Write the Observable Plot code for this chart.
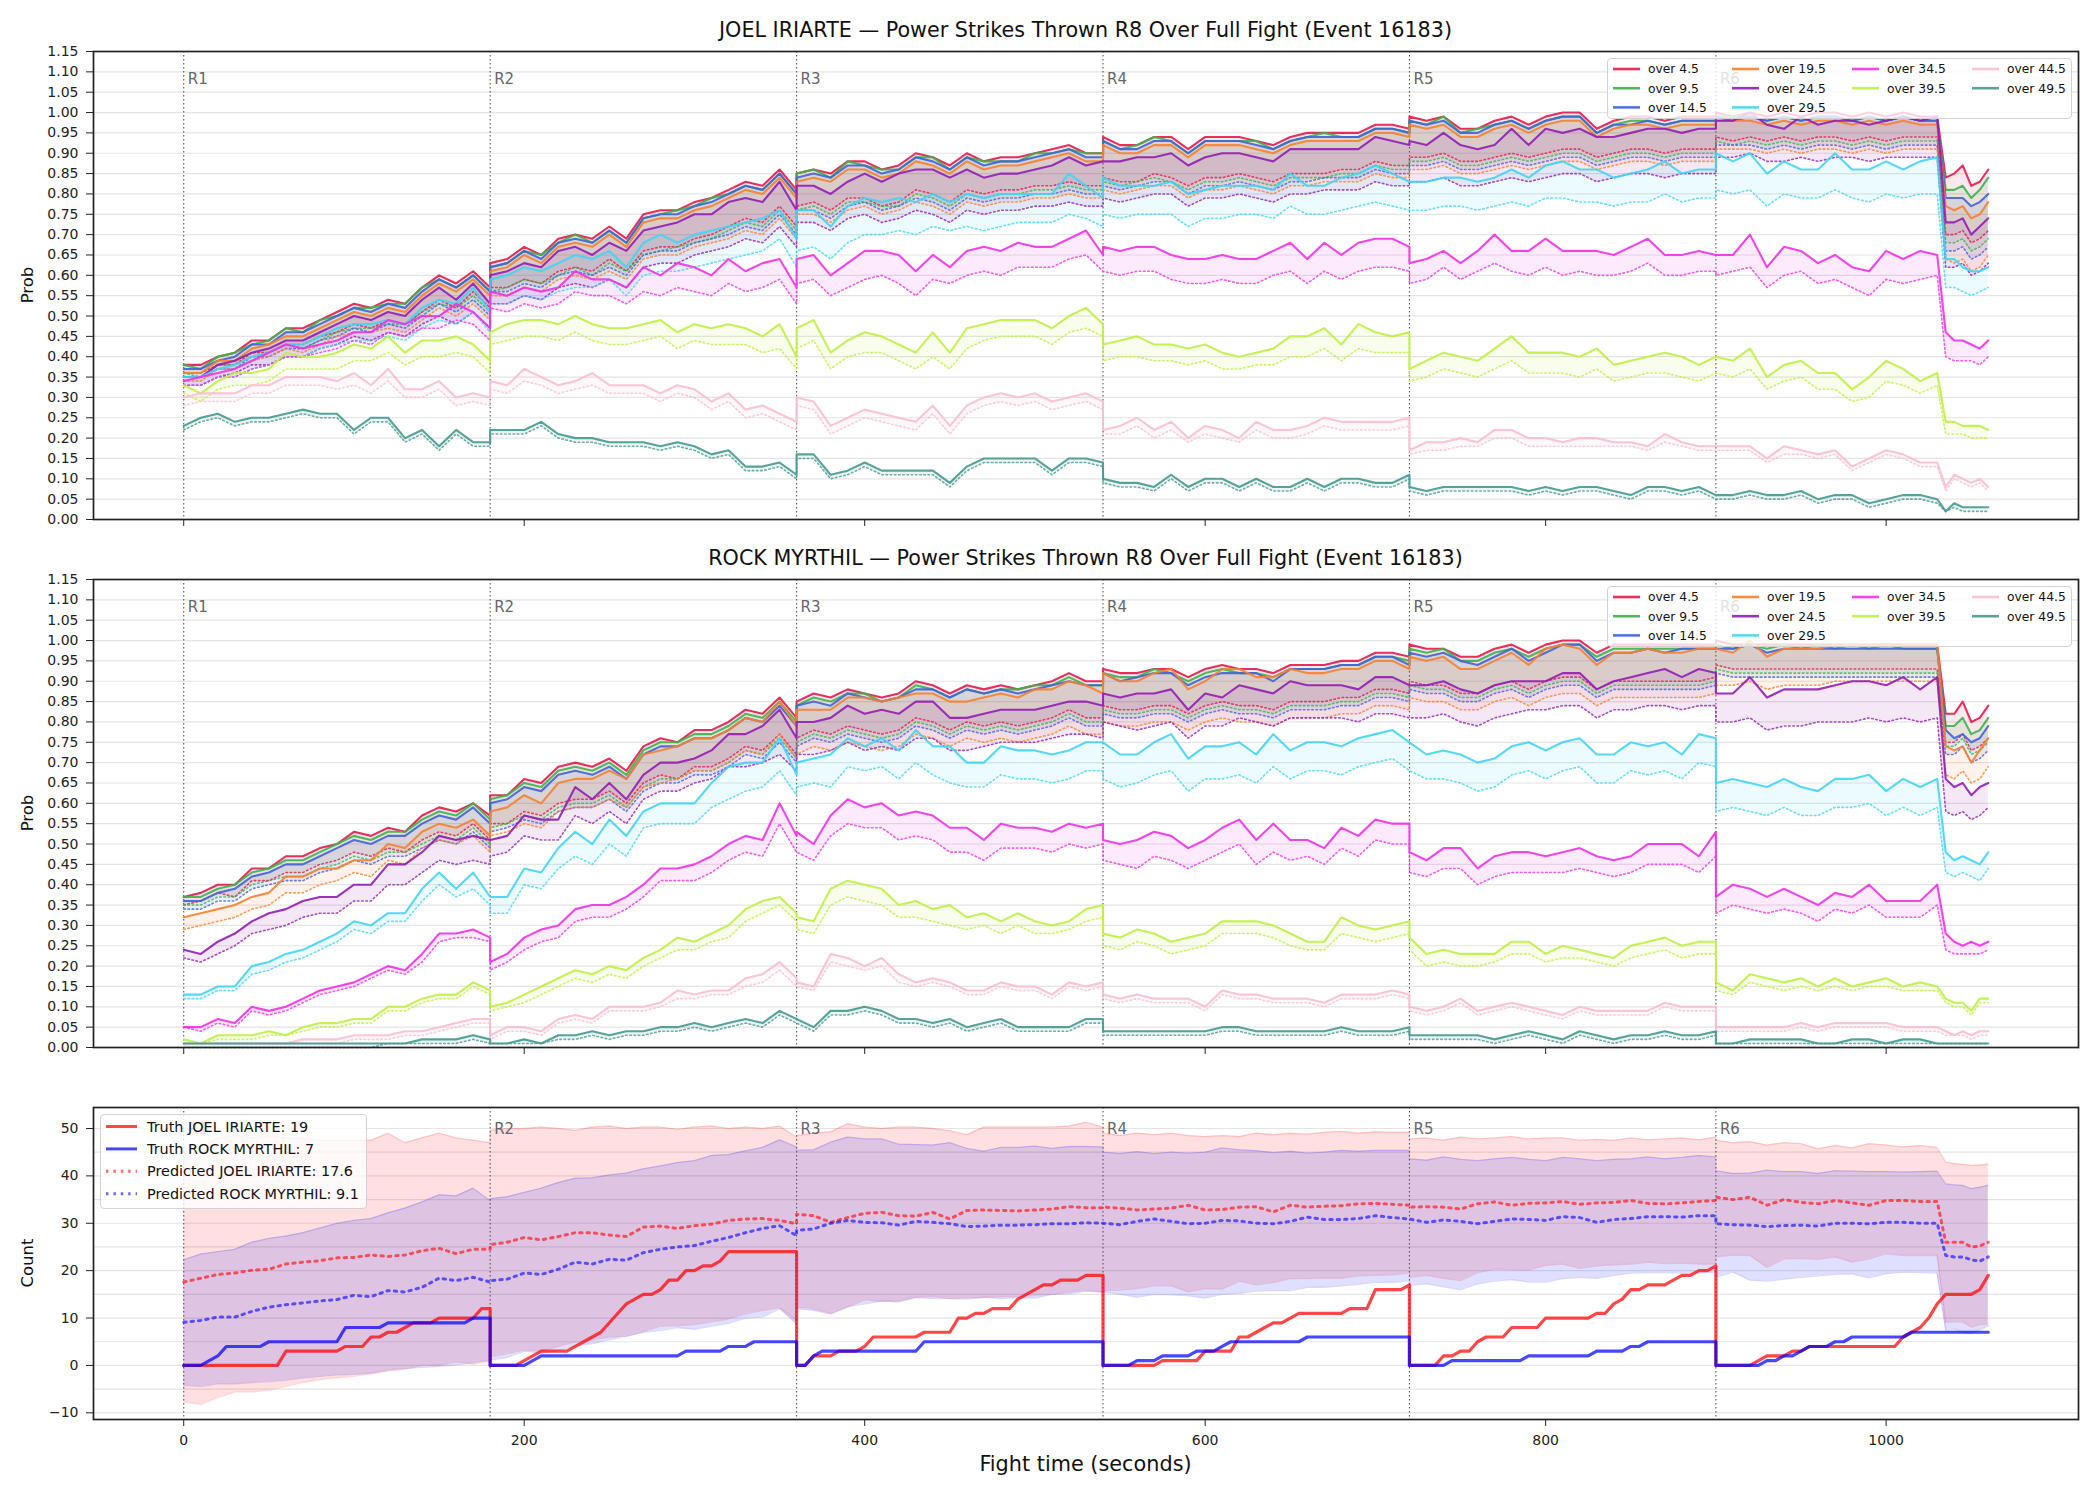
<!DOCTYPE html>
<html>
<head>
<meta charset="utf-8">
<script src="https://cdn.jsdelivr.net/npm/d3@7"></script>
<script src="https://cdn.jsdelivr.net/npm/@observablehq/plot@0.6"></script>
<style>
  html, body { margin: 0; padding: 0; background: #fff; }
  #fig { position: relative; width: 2100px; height: 1500px; overflow: hidden; font-family: "DejaVu Sans", sans-serif; color: #111; }
  .panel { position: absolute; left: 0; }
  .title { position: absolute; left: 93px; width: 1985px; text-align: center; font-size: 20.7px; line-height: 24px; color: #111; white-space: nowrap; }
  .ylab { position: absolute; width: 200px; text-align: center; font-size: 16.5px; line-height: 20px; transform: rotate(-90deg); }
  .xlab { position: absolute; left: 93px; width: 1985px; text-align: center; font-size: 20.8px; line-height: 24px; }
  .leg { position: absolute; box-sizing: border-box; border: 1px solid #d2d2d2; border-radius: 4px; background: rgba(255,255,255,0.8); }
  .leg svg { position: absolute; left: -1px; top: -1px; overflow: visible; }
</style>
</head>
<body>
<div id="fig"></div>
<script>
// ---- shared axes and labels ----
const fighterA = "JOEL IRIARTE";
const fighterB = "ROCK MYRTHIL";
const eventId = 16183;
const roundStarts = [0, 180, 360, 540, 720, 900];
const roundNames = ["R1", "R2", "R3", "R4", "R5", "R6"];
const timeTicks = [0, 200, 400, 600, 800, 1000];
const probTicks = [0, 0.05, 0.1, 0.15, 0.2, 0.25, 0.3, 0.35, 0.4, 0.45, 0.5, 0.55, 0.6, 0.65, 0.7, 0.75, 0.8, 0.85, 0.9, 0.95, 1, 1.05, 1.1, 1.15];
const countTicks = [-10, 0, 10, 20, 30, 40, 50];
const countGrid = [-10, -5, 0, 5, 10, 15, 20, 25, 30, 35, 40, 45, 50];
const lineNames = ["over 4.5", "over 9.5", "over 14.5", "over 19.5", "over 24.5", "over 29.5", "over 34.5", "over 39.5", "over 44.5", "over 49.5"];
const lineColors = ["#e6194b", "#3cb44b", "#4363d8", "#f58231", "#911eb4", "#42d4f4", "#f032e6", "#bfef45", "#fabed4", "#469990"];

// sample times (s); each round boundary appears twice: end of one round, start of the next
const fightTime = [
  0,10,20,30,40,50,60,70,80,90,100,110,120,130,140,150,160,170,180,
  180,190,200,210,220,230,240,250,260,270,280,290,300,310,320,330,340,350,360,
  360,370,380,390,400,410,420,430,440,450,460,470,480,490,500,510,520,530,540,
  540,550,560,570,580,590,600,610,620,630,640,650,660,670,680,690,700,710,720,
  720,730,740,750,760,770,780,790,800,810,820,830,840,850,860,870,880,890,900,
  900,910,920,930,940,950,960,970,980,990,1000,1010,1020,1030,1035,1040,1045,1050,1055,1060
];

// ---- JOEL IRIARTE: probability (%) of each line, model value ----
const joelP4_5 = [
  38,38,40,41,44,44,47,47,49,51,53,52,54,53,57,60,58,61,57,
  63,64,67,65,69,70,69,72,69,75,76,76,78,79,81,83,82,86,81,
  85,86,85,88,88,86,87,90,89,87,90,88,89,89,90,91,92,90,90,
  94,92,92,94,94,91,94,94,94,93,92,94,95,95,95,95,97,97,96,
  99,98,99,96,96,98,99,97,99,100,100,96,98,99,99,98,99,99,99,
  100,99,100,99,100,99,100,100,99,100,99,100,99,99,84,85,87,82,83,86];
const joelP9_5 = [
  38,37,40,41,43,44,47,46,49,50,52,52,53,53,57,59,57,60,56,
  62,63,66,65,68,70,68,71,68,74,75,76,77,79,80,82,81,85,80,
  85,86,84,88,87,86,86,89,89,86,89,88,88,88,90,90,91,90,90,
  93,91,92,94,93,90,93,93,93,93,91,93,94,95,94,94,96,96,95,
  98,97,99,95,96,97,98,96,98,99,99,95,97,98,98,97,98,98,98,
  99,99,99,98,99,98,99,99,98,99,98,99,98,98,81,81,82,79,81,84];
const joelP14_5 = [
  37,37,39,40,43,43,46,46,48,50,52,51,53,52,56,59,57,60,56,
  62,63,66,64,68,69,68,71,68,74,75,75,77,78,80,82,81,85,80,
  84,85,84,87,87,85,86,89,88,86,89,87,88,88,89,90,91,89,89,
  93,91,91,93,93,90,93,93,93,92,91,93,94,94,94,94,96,96,95,
  98,97,98,95,95,97,98,96,98,99,99,95,97,97,98,97,98,98,98,
  99,98,99,98,99,98,99,99,98,99,98,99,98,98,79,79,79,77,78,80];
const joelP19_5 = [
  36,36,39,39,42,43,45,45,47,49,51,50,52,51,55,58,56,59,55,
  61,62,65,63,67,68,67,70,67,73,74,74,76,77,79,81,80,84,79,
  83,84,83,86,86,84,85,88,87,85,88,86,87,87,88,89,90,88,88,
  92,90,90,92,92,89,92,92,92,91,90,92,93,93,93,93,95,95,94,
  97,96,97,94,94,96,97,95,97,98,98,94,96,97,97,96,97,97,97,
  98,98,98,97,98,97,98,98,97,98,97,98,97,97,77,76,77,74,75,78];
const joelP24_5 = [
  35,35,38,39,41,42,44,44,46,48,50,49,51,50,54,57,54,58,53,
  60,61,63,62,66,67,65,68,66,71,72,73,75,75,78,79,78,83,76,
  82,82,80,83,85,83,85,86,86,84,86,84,85,85,86,87,89,87,88,
  88,88,89,89,90,87,89,90,90,89,88,91,91,91,91,91,94,93,92,
  93,92,95,92,91,92,96,92,96,95,96,94,94,95,96,96,95,96,96,
  98,98,100,97,96,99,97,98,98,97,98,99,98,99,73,73,74,70,72,74];
const joelP29_5 = [
  35,35,37,38,40,41,43,43,45,47,48,48,49,48,52,54,53,57,51,
  59,60,62,61,63,65,64,66,62,68,70,68,70,71,72,73,74,76,69,
  76,76,72,77,79,78,79,78,80,78,80,79,80,80,80,80,85,82,79,
  84,82,82,82,83,80,81,82,82,82,81,85,82,82,84,85,87,85,83,
  83,83,84,84,83,84,86,84,87,88,86,86,84,85,86,88,85,86,86,
  90,88,90,85,88,86,86,90,86,86,88,86,88,89,64,64,62,61,61,62];
const joelP34_5 = [
  34,35,36,37,39,41,43,42,43,44,46,46,49,48,50,50,53,51,47,
  56,55,57,56,57,61,59,59,57,62,60,63,62,60,64,61,63,64,57,
  64,65,60,63,66,66,65,61,65,62,66,67,66,68,67,67,69,71,65,
  67,66,67,67,65,64,64,65,64,64,66,68,64,68,65,68,69,69,67,
  63,64,66,63,66,70,66,66,69,66,66,66,65,67,69,65,65,66,65,
  65,65,70,62,67,66,63,65,62,61,66,64,66,65,46,44,44,43,42,44];
const joelP39_5 = [
  33,31,34,36,36,37,41,40,40,41,43,42,45,41,44,44,45,43,39,
  46,48,49,49,48,50,48,47,47,48,49,46,48,47,48,47,45,48,40,
  47,49,41,44,46,45,43,41,46,41,47,48,49,49,49,47,50,52,48,
  43,44,45,43,43,42,43,41,40,41,42,45,45,47,43,48,46,45,46,
  37,39,41,40,39,42,45,41,41,41,40,42,38,39,40,41,40,38,40,
  40,39,42,35,38,39,36,36,32,35,39,37,34,36,24,24,23,23,23,22];
const joelP44_5 = [
  30,31,31,31,33,33,35,35,35,34,36,33,37,32,32,34,30,31,30,
  34,33,37,35,33,34,36,33,33,33,31,33,32,29,31,27,28,26,24,
  30,29,23,25,27,26,25,24,28,23,28,30,31,30,31,29,30,31,29,
  22,23,25,22,24,20,23,22,20,24,22,22,23,25,24,24,24,24,25,
  17,19,19,20,19,22,22,20,20,19,20,20,19,19,18,21,19,18,18,
  18,18,18,15,18,17,16,17,13,15,17,16,14,14,8,11,10,9,10,8];
const joelP49_5 = [
  23,25,26,24,25,25,26,27,26,26,22,25,25,20,22,18,22,19,19,
  22,22,22,24,21,20,20,19,19,19,18,19,18,16,17,13,13,14,11,
  16,16,11,12,14,12,12,12,12,9,13,15,15,15,15,12,15,15,14,
  10,9,9,8,11,8,10,10,8,10,8,8,10,8,10,10,9,9,11,
  8,7,8,8,8,8,8,7,8,7,8,8,7,6,8,8,7,8,6,
  6,6,7,6,6,7,5,6,6,4,5,6,6,5,2,4,3,3,3,3];

// ---- JOEL IRIARTE: lower reference (%) drawn dotted ----
const joelL4_5 = [
  36,36,38,38,41,41,43,43,45,46,48,47,49,48,51,54,52,56,52,
  57,57,59,58,61,62,61,64,61,66,67,67,69,70,72,74,73,77,72,
  77,78,76,79,79,77,78,81,80,78,81,80,81,81,82,82,83,82,82,
  84,83,83,85,84,82,84,84,85,84,83,85,85,85,86,86,88,87,87,
  89,89,90,88,88,89,90,89,90,91,91,89,90,91,91,90,91,91,91,
  94,93,94,93,94,93,94,94,93,94,93,94,94,94,70,70,71,68,69,71];
const joelL9_5 = [
  36,35,38,38,40,41,43,42,44,46,47,47,48,48,51,53,52,55,51,
  56,57,59,58,60,62,60,63,61,65,66,67,68,69,71,73,72,76,71,
  76,77,75,78,78,77,77,80,79,77,80,79,80,80,81,81,82,81,81,
  83,82,83,84,83,81,83,83,84,83,82,84,84,84,85,85,87,86,86,
  88,88,89,87,87,88,89,88,89,90,90,88,89,90,90,89,90,90,90,
  93,92,93,92,93,92,93,93,92,93,92,93,93,93,68,68,69,66,67,69];
const joelL14_5 = [
  35,35,37,37,40,40,42,42,44,45,47,46,48,47,50,53,51,54,50,
  56,56,58,57,60,61,60,62,60,65,66,66,68,69,70,72,71,75,70,
  76,76,74,77,78,76,77,79,78,76,79,78,79,79,80,80,81,80,80,
  82,81,82,83,83,80,82,82,83,82,81,83,83,84,84,84,86,85,85,
  87,87,88,86,86,87,88,87,88,89,89,87,88,89,89,88,89,89,89,
  92,92,92,91,92,91,92,92,91,92,91,92,92,92,66,66,67,64,65,67];
const joelL19_5 = [
  34,34,37,37,39,40,42,41,43,45,46,46,47,46,49,52,50,53,49,
  55,55,57,56,59,60,59,61,59,64,65,65,67,68,69,71,70,74,69,
  75,75,73,76,77,75,76,78,77,75,78,77,78,78,79,79,80,79,79,
  81,80,81,82,82,79,81,81,82,81,80,82,82,83,83,83,85,84,84,
  86,86,87,85,85,86,87,86,87,88,88,86,87,88,88,87,88,88,88,
  91,91,91,90,91,90,91,91,90,91,90,91,91,91,64,63,64,61,62,65];
const joelL24_5 = [
  33,33,35,36,38,38,40,40,42,43,45,44,46,45,48,50,48,51,47,
  53,53,55,54,57,58,57,59,57,62,63,63,65,66,67,69,68,72,67,
  73,73,71,74,75,73,74,76,75,73,76,75,76,76,77,77,78,77,77,
  79,78,79,80,80,77,79,79,80,79,78,80,80,81,81,81,83,82,82,
  83,83,84,82,82,83,84,83,84,85,85,83,84,85,85,84,85,85,85,
  89,89,90,88,88,89,88,89,89,88,89,89,89,89,62,62,63,60,61,63];
const joelL29_5 = [
  33,33,35,35,37,38,40,40,42,43,44,44,45,44,47,49,48,51,46,
  53,53,55,54,56,57,57,59,55,60,61,61,62,63,64,65,66,69,62,
  66,67,64,68,70,70,71,70,72,71,72,71,72,73,73,73,75,74,72,
  75,74,75,75,75,72,74,74,75,75,74,77,75,75,76,77,78,77,76,
  76,76,77,77,76,77,78,77,79,79,78,78,77,78,78,80,78,79,79,
  81,80,81,77,80,79,79,81,79,78,80,79,80,80,57,57,56,55,56,57];
const joelL34_5 = [
  33,33,35,35,37,38,40,40,41,42,44,43,46,45,47,47,49,48,44,
  52,51,53,52,53,56,55,55,53,56,55,57,56,55,58,56,57,59,53,
  58,59,55,57,59,60,58,55,59,58,60,61,60,62,62,62,64,65,61,
  61,60,61,61,59,58,58,59,58,58,60,61,58,61,59,61,62,62,61,
  58,59,62,59,61,63,61,60,62,60,61,60,60,61,63,60,60,61,61,
  60,61,62,57,60,61,58,59,57,55,59,58,59,60,40,39,39,39,38,40];
const joelL39_5 = [
  31,29,32,33,33,34,37,37,37,37,39,39,41,38,40,40,41,40,36,
  43,44,45,45,44,46,44,43,43,44,45,42,44,43,43,43,41,42,37,
  42,44,37,40,41,41,39,37,40,37,42,44,45,45,45,43,46,47,45,
  39,40,40,39,39,38,39,37,37,38,38,40,40,42,39,42,41,41,41,
  34,35,37,36,35,37,39,36,36,36,35,37,34,35,36,36,35,34,36,
  36,35,37,32,34,35,32,32,29,30,34,33,31,33,21,21,21,20,20,20];
const joelL44_5 = [
  28,29,29,29,31,31,33,33,33,32,33,31,34,30,30,32,28,29,28,
  32,31,34,33,31,32,33,31,31,31,29,31,30,27,29,25,26,24,22,
  28,27,21,23,25,24,23,22,26,21,26,28,29,28,29,27,28,29,27,
  21,21,23,20,22,19,21,20,19,22,20,20,21,23,22,22,22,22,23,
  16,17,17,18,18,20,20,18,18,18,18,18,18,18,17,19,18,17,17,
  17,17,17,14,16,16,15,16,12,14,16,15,13,13,7,10,9,8,9,7];
const joelL49_5 = [
  22,24,25,23,24,24,25,26,25,25,21,24,24,19,21,17,21,18,18,
  21,21,21,23,20,19,19,18,18,18,17,18,17,15,16,12,12,13,10,
  15,15,10,11,13,11,11,11,11,8,12,14,14,14,14,11,14,14,13,
  9,8,8,7,10,7,9,9,7,9,7,7,9,7,9,9,8,8,10,
  7,6,7,7,7,7,7,6,7,6,7,7,6,5,7,7,6,7,5,
  5,5,6,5,5,6,4,5,5,3,4,5,5,4,2,3,2,2,2,2];

// ---- ROCK MYRTHIL: probability (%) of each line, model value ----
const rockP4_5 = [
  37,38,40,40,44,44,47,47,49,50,53,52,54,53,57,59,58,60,57,
  62,62,66,65,69,70,69,71,68,74,76,75,78,78,80,83,82,86,81,
  85,87,86,88,87,86,87,90,89,87,89,88,89,88,89,90,92,90,90,
  93,92,92,93,93,91,93,94,93,93,92,94,94,94,95,95,97,97,96,
  99,98,98,96,96,98,99,97,99,100,100,97,99,99,99,99,99,99,99,
  100,99,99,99,99,99,99,99,99,99,99,99,99,99,82,82,85,80,81,84];
const rockP9_5 = [
  37,37,39,40,43,44,46,46,48,50,52,51,53,53,56,58,57,60,56,
  61,62,65,64,68,69,68,70,67,73,75,75,77,77,79,82,81,85,80,
  84,86,85,87,87,85,86,89,88,86,88,87,88,88,89,89,91,89,89,
  92,91,91,93,92,90,92,93,92,92,91,93,93,93,94,94,96,96,95,
  98,97,98,95,95,97,98,96,98,99,99,96,98,98,98,98,98,98,98,
  99,98,99,98,99,98,99,98,99,98,99,98,98,98,79,79,81,77,78,81];
const rockP14_5 = [
  36,36,38,39,42,43,45,45,47,49,51,50,52,52,55,57,56,59,55,
  60,61,64,63,67,68,67,69,66,72,74,74,76,76,78,81,80,84,79,
  84,85,84,87,86,85,86,88,88,86,88,87,88,87,88,89,90,89,89,
  92,90,91,92,92,89,91,92,92,92,90,93,93,93,94,94,96,96,94,
  97,96,97,95,94,96,98,95,97,99,99,95,97,97,98,97,98,98,98,
  98,98,99,97,98,98,98,98,98,98,98,98,98,98,78,76,77,75,76,79];
const rockP19_5 = [
  32,33,34,35,37,38,42,42,44,44,46,46,50,49,53,55,54,56,52,
  58,59,62,60,65,66,66,68,66,72,73,74,76,76,78,81,80,85,79,
  83,83,83,86,86,85,86,87,87,85,85,86,87,86,88,88,90,89,87,
  92,90,90,92,93,88,90,93,93,91,91,93,92,92,93,93,95,95,93,
  96,95,96,93,93,95,97,94,98,99,98,94,97,97,98,97,97,98,98,
  98,97,100,96,98,98,98,99,99,99,99,99,99,99,74,73,74,70,73,76];
const rockP24_5 = [
  24,23,26,28,31,33,34,36,37,37,40,40,45,45,48,52,51,52,51,
  51,52,57,56,56,64,61,65,61,67,70,70,71,73,77,77,79,83,76,
  80,80,81,84,82,83,82,85,85,81,81,82,83,83,83,84,85,85,84,
  87,86,87,87,88,83,87,86,89,88,87,90,89,89,89,88,91,91,89,
  89,89,90,88,87,89,90,90,90,92,92,88,90,91,92,93,91,93,92,
  87,87,91,86,88,88,88,89,90,90,89,91,88,91,66,64,65,62,64,65];
const rockP29_5 = [
  13,13,15,15,20,21,23,24,26,28,31,30,33,33,39,43,39,43,37,
  37,37,44,43,49,53,50,56,52,58,60,60,60,65,69,70,70,76,67,
  70,71,72,76,74,76,73,78,74,74,70,70,74,73,73,72,73,75,75,
  75,72,72,75,77,71,74,74,75,72,77,73,75,75,74,76,77,78,75,
  75,72,73,72,70,71,74,75,73,75,76,72,72,75,74,75,72,77,76,
  65,66,65,64,66,64,63,66,66,67,63,66,64,66,48,46,47,46,45,48];
const rockP34_5 = [
  5,5,7,6,10,9,10,12,14,15,16,18,20,19,23,28,28,29,27,
  21,23,27,29,30,34,35,35,37,40,44,44,45,47,50,52,51,60,52,
  53,50,57,61,59,60,57,58,57,54,54,51,55,54,54,53,55,54,55,
  51,50,51,53,52,49,51,54,56,51,55,51,51,49,54,52,56,55,55,
  48,46,49,49,44,47,48,48,47,48,49,47,46,47,50,50,50,47,53,
  37,40,39,37,39,37,35,38,37,40,36,36,36,40,28,26,25,26,25,26];
const rockP39_5 = [
  2,1,3,3,3,4,3,5,6,6,7,7,10,10,12,13,13,16,14,
  10,11,13,15,17,19,18,20,19,22,24,27,26,28,30,34,36,37,33,
  32,31,39,41,40,39,35,36,34,35,32,33,31,33,31,30,31,34,35,
  28,27,29,28,26,27,28,31,31,31,30,28,26,26,32,30,29,30,31,
  27,23,24,23,23,23,26,26,23,25,24,23,22,25,26,27,25,26,26,
  16,14,18,17,16,17,15,17,15,16,17,15,16,15,12,11,11,9,12,12];
const rockP44_5 = [
  1,1,1,1,1,1,1,2,2,2,3,3,3,4,4,5,6,7,7,
  3,5,5,4,7,8,7,10,10,10,11,14,13,14,14,17,18,21,17,
  16,15,23,22,20,22,18,16,17,16,14,14,16,15,15,13,16,15,16,
  13,12,13,12,12,12,10,14,13,13,12,12,12,11,13,13,13,14,13,
  10,9,10,12,9,10,11,10,9,8,10,9,9,9,9,11,10,10,10,
  5,5,5,5,5,6,5,6,6,6,6,5,5,5,4,3,4,3,4,4];
const rockP49_5 = [
  1,1,1,1,1,1,1,1,1,1,1,1,1,1,2,2,2,3,2,
  1,1,2,1,3,3,4,3,4,4,5,5,6,5,6,7,6,9,7,
  7,5,9,9,10,9,7,7,6,7,5,6,7,5,5,5,5,7,7,
  4,4,4,4,4,4,4,5,5,4,4,4,4,4,5,4,4,4,5,
  3,3,3,3,3,2,3,4,3,2,4,3,2,3,3,4,3,3,4,
  1,1,2,2,2,2,1,1,2,2,1,2,2,1,1,1,1,1,1,1];

// ---- ROCK MYRTHIL: lower reference (%) drawn dotted ----
const rockL4_5 = [
  35,36,38,37,41,41,43,43,45,46,48,47,49,48,51,53,52,55,51,
  55,55,58,57,60,61,61,63,60,65,67,66,69,69,71,74,73,77,72,
  76,78,77,79,78,77,78,81,80,78,80,79,80,79,80,81,83,81,81,
  84,83,83,84,84,82,84,85,84,84,83,85,85,85,86,86,88,88,87,
  90,89,89,87,87,89,90,88,90,91,91,88,90,90,90,90,90,90,91,
  94,93,93,93,93,93,93,93,93,93,93,93,93,93,75,75,77,73,74,76];
const rockL9_5 = [
  35,35,37,37,40,41,42,42,44,45,47,46,48,48,50,52,51,54,50,
  54,55,57,56,59,60,60,62,59,64,66,66,68,68,70,73,72,76,71,
  75,77,76,78,77,76,77,80,79,77,79,78,79,78,79,80,82,80,80,
  83,82,82,83,83,81,83,84,83,83,82,84,84,84,85,85,87,87,86,
  89,88,88,86,86,88,89,87,89,90,90,87,89,89,89,89,89,89,90,
  93,92,92,92,92,92,92,92,92,92,92,92,92,92,74,74,76,72,73,75];
const rockL14_5 = [
  34,34,36,36,39,40,41,41,43,44,46,45,47,47,49,51,50,53,49,
  53,54,56,55,58,59,59,61,58,63,65,65,67,67,69,72,71,75,70,
  74,76,75,77,76,75,76,79,78,76,78,77,78,77,78,79,81,79,79,
  82,81,81,82,82,80,82,83,82,82,81,83,83,83,84,84,86,86,85,
  88,87,87,85,85,87,88,86,88,89,89,86,88,88,88,88,88,88,89,
  92,91,91,91,91,91,91,91,91,91,91,91,91,91,72,72,74,70,71,73];
const rockL19_5 = [
  29,30,31,32,34,35,38,38,40,41,43,42,46,45,49,51,50,52,48,
  52,53,55,54,58,59,59,61,59,64,65,66,68,68,70,73,72,77,71,
  72,74,73,75,74,73,74,77,76,74,76,75,76,75,76,77,79,77,77,
  80,79,79,80,80,78,80,81,80,80,79,81,81,81,82,82,84,84,83,
  86,85,85,83,83,85,86,84,86,87,87,84,86,86,86,86,86,86,87,
  89,89,90,88,89,89,89,90,90,90,90,90,90,90,67,66,68,65,66,69];
const rockL24_5 = [
  22,21,23,25,28,29,30,32,33,33,36,36,40,40,43,46,45,46,45,
  47,48,52,51,51,57,55,58,55,61,63,63,65,66,69,69,70,72,68,
  72,72,73,75,73,74,73,76,76,73,73,74,75,75,75,76,77,77,76,
  80,79,78,79,80,76,79,79,81,80,79,81,81,81,81,80,82,82,81,
  81,81,82,80,79,81,82,83,83,84,84,81,83,83,84,84,83,84,84,
  80,80,81,78,79,79,80,80,80,81,80,81,80,81,58,57,58,56,57,59];
const rockL29_5 = [
  12,12,14,14,18,19,21,22,24,26,29,28,31,31,36,40,37,39,35,
  33,33,40,39,44,47,45,50,47,54,55,55,55,59,61,63,64,68,62,
  64,65,64,69,68,69,66,70,67,65,64,64,67,66,66,65,66,68,68,
  66,64,65,67,68,63,66,66,67,65,69,66,68,68,67,69,70,71,68,
  68,66,66,65,63,64,67,68,66,68,69,65,65,68,67,68,66,70,69,
  58,59,58,57,59,57,57,59,59,60,57,59,57,59,43,42,43,42,41,44];
const rockL34_5 = [
  5,4,6,5,9,8,9,11,13,14,15,17,19,18,21,26,27,27,26,
  19,21,24,26,27,31,32,32,34,37,41,41,41,43,46,48,47,55,48,
  48,46,52,55,54,54,51,52,51,48,48,46,49,49,49,48,50,49,50,
  46,45,44,47,46,44,46,48,50,45,48,46,47,45,49,47,51,50,50,
  43,42,44,44,40,42,43,43,43,43,44,43,42,43,45,45,45,43,47,
  33,35,34,33,34,33,31,34,33,35,32,32,32,35,24,23,23,23,23,24];
const rockL39_5 = [
  1,1,2,2,2,3,3,4,5,5,6,6,9,9,11,12,12,15,13,
  9,10,11,13,15,17,16,18,17,20,22,24,24,26,27,31,33,35,31,
  29,28,35,37,36,35,32,32,31,30,29,30,28,30,28,28,29,31,32,
  25,24,26,25,23,24,25,28,28,28,27,25,24,24,28,27,26,27,28,
  24,20,21,20,20,21,23,23,21,22,22,21,20,22,23,24,22,23,23,
  14,13,16,15,14,15,14,15,14,15,15,14,14,14,11,10,10,8,11,11];
const rockL44_5 = [
  1,1,1,1,1,1,1,1,1,1,2,2,2,3,3,4,5,6,6,
  2,4,4,3,6,7,6,9,9,9,10,12,12,13,13,15,16,19,15,
  15,14,21,20,19,20,16,15,16,15,13,13,15,14,14,12,15,14,15,
  12,11,12,11,11,11,9,13,12,12,11,11,11,10,12,12,12,13,12,
  9,8,9,11,8,9,10,9,8,7,9,8,8,8,8,10,9,9,9,
  4,4,4,4,4,5,4,5,5,5,5,4,4,4,3,3,3,2,3,3];
const rockL49_5 = [
  0,0,0,0,0,0,0,0,0,0,0,0,1,1,1,1,1,2,1,
  1,1,1,1,2,2,3,2,3,3,4,4,5,4,5,6,5,8,6,
  6,4,8,8,9,8,6,6,5,6,4,5,6,4,4,4,4,6,6,
  3,3,3,3,3,3,3,4,4,3,3,3,3,3,4,3,3,3,4,
  2,2,2,2,2,1,2,3,2,1,3,2,1,2,2,3,2,2,3,
  1,1,1,1,1,1,1,1,1,1,1,1,1,1,1,1,1,1,1,1];

// ---- Counts: predicted totals and their ranges ----
const predJoel = [
  17.6,18.4,19.2,19.5,20.1,20.3,21.4,21.8,22.1,22.7,22.8,23.3,23.0,23.3,24.2,24.7,23.6,24.5,24.5,
  25.5,26.0,27.0,26.5,27.2,28.0,28.0,27.5,27.2,29.2,29.4,28.9,29.5,29.8,30.6,30.9,31.0,30.6,29.9,
  31.9,31.6,30.2,31.2,32.1,32.3,31.6,31.5,32.3,30.9,32.7,32.8,32.7,32.6,32.8,33.0,33.5,33.3,33.3,
  33.4,33.2,32.8,33.0,33.2,33.8,32.8,32.9,33.4,33.5,32.4,33.8,33.4,33.6,33.7,34.1,34.2,34.0,33.8,
  33.4,33.5,33.4,33.0,34.1,34.5,33.8,34.2,34.3,34.6,34.0,34.3,34.4,34.8,34.2,34.1,34.3,34.6,34.8,
  35.5,35.0,35.5,33.8,35.0,34.4,34.1,34.8,34.3,33.8,34.8,34.8,34.6,34.6,26.0,26.0,26.0,25.0,25.2,26.0];
const predRock = [
  9.1,9.5,10.2,10.2,11.4,12.3,12.8,13.2,13.6,13.9,14.8,14.5,15.8,15.5,16.5,18.4,17.9,18.6,17.6,
  17.9,18.2,19.5,19.2,20.3,21.8,21.4,22.4,22.2,23.8,24.5,25.0,25.3,26.2,27.0,28.0,28.9,29.5,27.4,
  28.5,28.8,30.0,30.6,30.2,30.1,29.6,30.4,30.2,29.9,29.3,29.4,29.6,29.6,29.7,29.9,29.9,30.1,30.0,
  30.0,29.7,30.4,30.9,30.4,29.9,30.0,30.6,30.5,30.0,29.9,30.4,31.3,30.8,30.8,31.0,31.6,31.2,30.9,
  30.9,30.2,30.7,30.4,29.9,30.4,30.9,30.8,30.6,31.4,31.2,30.2,30.8,31.0,31.4,31.4,31.3,31.6,31.6,
  29.9,29.7,29.6,29.3,29.5,29.6,29.4,30.0,30.0,29.9,30.2,30.2,30.0,30.0,23.2,22.9,22.9,22.3,22.0,22.9];
const joelHigh = [
  43,46,48,48.5,48,48.5,48,48,47.5,47.5,47.5,47.5,49,47,48,49,48,47.5,47,
  49.6,50,50,50.3,50,49.6,50.3,50.5,50,50.3,50.3,49.8,50.3,50.5,50,50.3,50,50.5,48.2,
  48.5,49,49.3,51,50.3,50,50.3,50.3,50,49.5,48.7,50.3,50.3,50.3,50.3,50.3,50.5,51.3,50.3,
  49,48.5,49,48.7,49,48.5,48.3,48.5,48.3,49,48.7,49,48.8,49.2,49.4,49,49.3,49.2,49.2,
  47.8,48,47.5,48.2,47.8,48,48.3,47.8,48,48,47.5,47.7,47.5,48,47.6,47.8,48,47.6,48.2,
  47.5,47,47.2,46.5,47,46.8,45.7,46.4,45.9,46.8,46.5,46.1,46.4,46,42.9,42.6,42.4,42.2,42.3,42.5];
const joelLow = [
  -7.7,-8.2,-6.8,-5.6,-5.6,-5.2,-4.4,-3.6,-3,-2.6,-2.3,-1.8,-1.2,-0.8,0,0,0.8,0.3,0.9,
  1.8,2.5,3.3,3,4,4.9,5.4,6,6.2,7.2,8.3,8.4,8.6,9.2,9.8,10.9,11.6,12.2,9.5,
  12.3,12,11,12.3,13.9,13.5,13.6,14.4,14.6,14.1,14.3,14.3,14.5,14.5,14.8,15,15.5,15.9,15.5,
  15.8,15.9,16.2,16.8,16.8,15.5,16.2,16.1,17.8,17,17.5,18.3,18.3,18.5,18.4,18.9,19,19.1,19.5,
  18.6,19,18.4,17.9,19.6,20.3,20.2,20.1,21.1,21.4,20.5,21,21.2,21.4,21.8,21.5,21.6,21.4,21.4,
  22.9,23.3,23.2,20.7,22.5,22.6,22.4,22.9,21.8,22.5,23.6,23.2,23.2,23.2,9.1,9.2,9.2,8.1,8.6,8.8];
const rockHigh = [
  22.3,23.5,24,24.5,26,26.8,27.3,28,29,30,30.6,31,32.2,33.2,34.5,36,35.8,37.4,34.8,
  35.2,35.6,36.5,37.4,38.6,39.5,39.6,40.2,40.6,41.5,42.1,42.8,43.2,44.3,44.5,45.3,46,47.6,46.1,
  45.4,45.5,47.1,48.2,47.8,47.8,46.7,46.6,46.5,47,45.8,45.2,46,46,46.3,45.8,46.2,46.2,46.1,
  45,44.7,45.1,44.7,45,44.8,45,45.9,45.5,45.3,44.9,45.2,44.8,45,45.4,45.2,45.4,45.4,45.4,
  43.6,43.3,44,43.5,43.2,43.6,43.9,43.5,43.2,43.9,43.6,43.2,43.5,43.6,44,43.6,43.9,44.3,44,
  41.1,40.5,40.6,41.2,40.9,40.9,40.5,41.1,41,40.9,40.9,40.8,40.9,41,38.3,38.1,38,37.3,37.6,38];
const rockLow = [
  -4.2,-4.4,-3.9,-3.9,-3.6,-3.4,-3.1,-2.6,-2.3,-2,-1.9,-1.6,-1,-0.6,-0.4,-0.2,0.1,0.6,1.1,
  1.1,1.7,3,2.6,3.2,4.2,4.6,5.4,6.2,7,7.4,8,7.6,8.3,8.9,10,10.2,12,8.8,
  12,11.6,10.9,12.4,13,13.6,13.4,14.3,14.1,14.1,14,14.4,14.1,14.3,14.2,15,15.1,15.7,15.5,
  15.5,15,14.4,15,14.9,14.7,14.2,15,15.2,15.7,15.8,15.8,16.5,16.5,16.8,17.1,17.6,17.5,17.9,
  16.9,17.2,16.6,16,17.2,17.8,18.1,17.6,17.6,18.3,18.6,18.4,19,19.5,19.6,19.6,19.5,19.6,19.7,
  18.6,19.7,18,17.8,18.2,18.6,18.9,19.2,19.3,18.5,19.4,19.7,19.6,19.5,7.4,7.6,7,6.7,7.5,8.4];

// ---- Counts: truth, cumulative within each round, as [time, count] points ----
const truthJoel = [
  [0,0],[55,0],[60,3],[90,3],[95,4],[105,4],[110,6],[115,6],[120,7],[125,7],[130,8],[135,9],[145,9],[150,10],[170,10],[175,12],[180,12],
  [180,0],[195,0],[200,1],[205,2],[210,3],[225,3],[230,4],[235,5],[240,6],[245,7],[250,9],[255,11],[260,13],[265,14],[270,15],[275,15],[280,16],[285,18],[290,18],[295,20],[300,20],[305,21],[310,21],[315,22],[320,24],[360,24],
  [360,0],[365,0],[370,2],[380,2],[385,3],[395,3],[400,4],[405,6],[430,6],[435,7],[450,7],[455,10],[460,10],[465,11],[470,11],[475,12],[485,12],[490,14],[495,15],[500,16],[505,17],[510,17],[515,18],[525,18],[530,19],[540,19],
  [540,0],[570,0],[575,1],[595,1],[600,3],[615,3],[620,6],[625,6],[630,7],[635,8],[640,9],[645,9],[650,10],[655,11],[680,11],[685,12],[695,12],[700,16],[715,16],[720,17],
  [720,0],[735,0],[740,2],[745,2],[750,3],[755,3],[760,5],[765,6],[775,6],[780,8],[795,8],[800,10],[825,10],[830,11],[835,11],[840,13],[845,14],[850,16],[855,16],[860,17],[870,17],[875,18],[880,19],[885,19],[890,20],[895,20],[900,21],
  [900,0],[920,0],[925,1],[930,2],[940,2],[945,3],[950,3],[955,4],[1005,4],[1010,6],[1015,7],[1020,8],[1025,10],[1030,13],[1035,15],[1050,15],[1055,16],[1060,19]
];
const truthRock = [
  [0,0],[10,0],[15,1],[20,2],[25,4],[45,4],[50,5],[90,5],[95,8],[115,8],[120,9],[165,9],[170,10],[180,10],
  [180,0],[200,0],[205,1],[210,2],[290,2],[295,3],[315,3],[320,4],[330,4],[335,5],[360,5],
  [360,0],[365,0],[370,2],[375,3],[430,3],[435,5],[540,5],
  [540,0],[555,0],[560,1],[570,1],[575,2],[590,2],[595,3],[605,3],[610,4],[615,5],[655,5],[660,6],[720,6],
  [720,0],[740,0],[745,1],[785,1],[790,2],[825,2],[830,3],[845,3],[850,4],[855,4],[860,5],[900,5],
  [900,0],[925,0],[930,1],[935,1],[940,2],[945,2],[950,3],[955,4],[965,4],[970,5],[975,5],[980,6],[1010,6],[1015,7],[1060,7]
];

const joelModel = [joelP4_5, joelP9_5, joelP14_5, joelP19_5, joelP24_5, joelP29_5, joelP34_5, joelP39_5, joelP44_5, joelP49_5];
const joelRef = [joelL4_5, joelL9_5, joelL14_5, joelL19_5, joelL24_5, joelL29_5, joelL34_5, joelL39_5, joelL44_5, joelL49_5];
const rockModel = [rockP4_5, rockP9_5, rockP14_5, rockP19_5, rockP24_5, rockP29_5, rockP34_5, rockP39_5, rockP44_5, rockP49_5];
const rockRef = [rockL4_5, rockL9_5, rockL14_5, rockL19_5, rockL24_5, rockL29_5, rockL34_5, rockL39_5, rockL44_5, rockL49_5];

// ---- layout ----
const W = 2100;
const ML = 93, MR = 22;
const xDomain = [-53, 1113];
const baseStyle = {fontFamily: "DejaVu Sans", fontSize: "14px", color: "#222", background: "transparent", overflow: "visible"};
const fig = document.getElementById("fig");
const dotted = "2.4,5";

// sanity check on series lengths
const lengthIssues = [];
[...joelModel, ...joelRef, ...rockModel, ...rockRef, predJoel, predRock, joelHigh, joelLow, rockHigh, rockLow].forEach((a, i) => {
  if (a.length !== fightTime.length) lengthIssues.push(i + ":" + a.length);
});
if (lengthIssues.length) console.error("length mismatch", lengthIssues.join(" "));

function place(el, top) {
  el.classList.add("panel");
  el.style.top = top + "px";
  fig.appendChild(el);
}

function probChart(model, ref) {
  const rows = [];
  lineNames.forEach((name, k) => {
    fightTime.forEach((t, i) => {
      rows.push({name, t, hi: model[k][i] / 100, lo: ref[k][i] / 100});
    });
  });
  return Plot.plot({
    width: W, height: 490,
    marginLeft: ML, marginRight: MR, marginTop: 10, marginBottom: 12,
    style: baseStyle,
    x: {domain: xDomain, ticks: timeTicks, tickSize: 7, tickFormat: () => "", label: null},
    y: {domain: [0, 1.15], ticks: probTicks, tickSize: 7, tickPadding: 8, tickFormat: d3.format(".2f"), label: null},
    color: {domain: lineNames, range: lineColors},
    marks: [
      Plot.ruleY(probTicks, {stroke: "#e4e4e4", strokeWidth: 1.2}),
      Plot.areaY(rows, {x: "t", y1: "lo", y2: "hi", fill: "name", fillOpacity: 0.1}),
      Plot.ruleX(roundStarts, {stroke: "#555", strokeWidth: 1.1, strokeDasharray: "1.6,2.4"}),
      Plot.text(roundStarts, {x: d => d, text: (d, i) => roundNames[i], frameAnchor: "top", dy: 22, dx: 4, textAnchor: "start", fill: "#666", fontSize: 15}),
      Plot.line(rows, {x: "t", y: "lo", stroke: "name", strokeWidth: 1.6, strokeDasharray: "1.6,2.6", strokeOpacity: 0.8}),
      Plot.line(rows, {x: "t", y: "hi", stroke: "name", strokeWidth: 2.1, strokeOpacity: 0.9}),
      Plot.frame({stroke: "#222", strokeWidth: 1.7})
    ]
  });
}

function countChart() {
  const rows = fightTime.map((t, i) => ({t, pj: predJoel[i], pr: predRock[i], jlo: joelLow[i], jhi: joelHigh[i], rlo: rockLow[i], rhi: rockHigh[i]}));
  const tj = truthJoel.map(([t, v]) => ({t, v}));
  const tr = truthRock.map(([t, v]) => ({t, v}));
  return Plot.plot({
    width: W, height: 403,
    marginLeft: ML, marginRight: MR, marginTop: 10, marginBottom: 81,
    style: baseStyle,
    x: {domain: xDomain, ticks: timeTicks, tickSize: 7, tickPadding: 9, tickFormat: d3.format("d"), label: null},
    y: {domain: [-11.41, 54.43], ticks: countTicks, tickSize: 7, tickPadding: 8, tickFormat: d3.format("d"), label: null},
    marks: [
      Plot.ruleY(countGrid, {stroke: "#e4e4e4", strokeWidth: 1.2}),
      Plot.areaY(rows, {x: "t", y1: "jlo", y2: "jhi", fill: "#ff0000", fillOpacity: 0.125}),
      Plot.line(rows, {x: "t", y: "jhi", stroke: "#ff0000", strokeOpacity: 0.15, strokeWidth: 1.3}),
      Plot.line(rows, {x: "t", y: "jlo", stroke: "#ff0000", strokeOpacity: 0.15, strokeWidth: 1.3}),
      Plot.areaY(rows, {x: "t", y1: "rlo", y2: "rhi", fill: "#0000ff", fillOpacity: 0.125}),
      Plot.line(rows, {x: "t", y: "rhi", stroke: "#0000ff", strokeOpacity: 0.15, strokeWidth: 1.3}),
      Plot.line(rows, {x: "t", y: "rlo", stroke: "#0000ff", strokeOpacity: 0.15, strokeWidth: 1.3}),
      Plot.ruleX(roundStarts, {stroke: "#555", strokeWidth: 1.1, strokeDasharray: "1.6,2.4"}),
      Plot.text(roundStarts, {x: d => d, text: (d, i) => roundNames[i], frameAnchor: "top", dy: 16, dx: 4, textAnchor: "start", fill: "#666", fontSize: 15}),
      Plot.line(rows, {x: "t", y: "pj", stroke: "#ff0000", strokeOpacity: 0.6, strokeWidth: 3, strokeDasharray: dotted}),
      Plot.line(rows, {x: "t", y: "pr", stroke: "#0000ff", strokeOpacity: 0.6, strokeWidth: 3, strokeDasharray: dotted}),
      Plot.line(tj, {x: "t", y: "v", stroke: "#ff0000", strokeOpacity: 0.72, strokeWidth: 3.2}),
      Plot.line(tr, {x: "t", y: "v", stroke: "#0000ff", strokeOpacity: 0.72, strokeWidth: 3.2}),
      Plot.frame({stroke: "#222", strokeWidth: 1.7})
    ]
  });
}

function addDiv(cls, text, css) {
  const d = document.createElement("div");
  d.className = cls;
  d.textContent = text;
  Object.assign(d.style, css);
  fig.appendChild(d);
  return d;
}

function probLegend(top) {
  const box = d3.select(fig).append("div").attr("class", "leg")
    .style("left", "1607px").style("top", top + "px").style("width", "465px").style("height", "61px");
  const svg = box.append("svg").attr("width", 465).attr("height", 61);
  const colLeft = [0, 119, 239, 359];
  const colFirst = [0, 3, 6, 8];
  lineNames.forEach((name, k) => {
    const col = k < 3 ? 0 : k < 6 ? 1 : k < 8 ? 2 : 3;
    const y = 11 + (k - colFirst[col]) * 19.2;
    const x0 = colLeft[col] + 6;
    svg.append("line").attr("x1", x0).attr("x2", x0 + 27).attr("y1", y).attr("y2", y)
      .attr("stroke", lineColors[k]).attr("stroke-width", 2.6).attr("stroke-opacity", 0.9);
    svg.append("text").attr("x", colLeft[col] + 41).attr("y", y).attr("dy", "0.35em")
      .attr("font-family", "DejaVu Sans").attr("font-size", 12.3).attr("fill", "#111").text(name);
  });
}

function countLegend() {
  const items = [
    {label: `Truth ${fighterA}: ${truthJoel[truthJoel.length - 1][1]}`, color: "#ff0000", op: 0.72, dash: null},
    {label: `Truth ${fighterB}: ${truthRock[truthRock.length - 1][1]}`, color: "#0000ff", op: 0.72, dash: null},
    {label: `Predicted ${fighterA}: ${predJoel[0].toFixed(1)}`, color: "#ff0000", op: 0.6, dash: dotted},
    {label: `Predicted ${fighterB}: ${predRock[0].toFixed(1)}`, color: "#0000ff", op: 0.6, dash: dotted}
  ];
  const box = d3.select(fig).append("div").attr("class", "leg")
    .style("left", "100px").style("top", "1114px").style("width", "267px").style("height", "95px");
  const svg = box.append("svg").attr("width", 267).attr("height", 95);
  items.forEach((it, k) => {
    const y = 12.5 + k * 22.4;
    const ln = svg.append("line").attr("x1", 6).attr("x2", 37).attr("y1", y).attr("y2", y)
      .attr("stroke", it.color).attr("stroke-opacity", it.op).attr("stroke-width", 3);
    if (it.dash) ln.attr("stroke-dasharray", it.dash);
    svg.append("text").attr("x", 47).attr("y", y).attr("dy", "0.35em")
      .attr("font-family", "DejaVu Sans").attr("font-size", 14.4).attr("fill", "#111").text(it.label);
  });
}

// ---- draw ----
place(probChart(joelModel, joelRef), 41);
place(probChart(rockModel, rockRef), 569);
place(countChart(), 1097);

addDiv("title", `${fighterA} — Power Strikes Thrown R8 Over Full Fight (Event ${eventId})`, {top: "18px"});
addDiv("title", `${fighterB} — Power Strikes Thrown R8 Over Full Fight (Event ${eventId})`, {top: "546px"});
addDiv("ylab", "Prob", {left: "-72px", top: "275px"});
addDiv("ylab", "Prob", {left: "-72px", top: "803px"});
addDiv("ylab", "Count", {left: "-72px", top: "1253px"});
addDiv("xlab", "Fight time (seconds)", {top: "1452px"});

probLegend(58);
probLegend(586);
countLegend();

if (lengthIssues.length) addDiv("xlab", "length mismatch " + lengthIssues.join(" "), {top: "0px", color: "red", fontSize: "12px"});
</script>
</body>
</html>
